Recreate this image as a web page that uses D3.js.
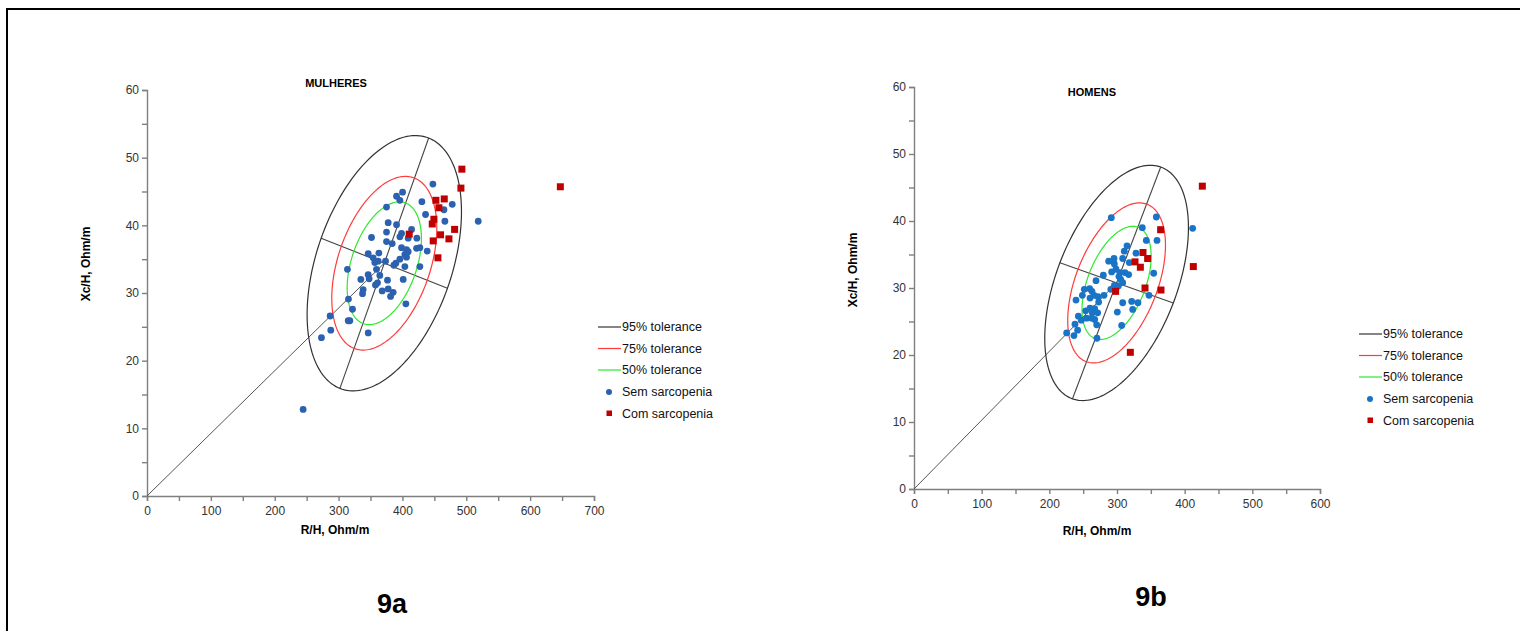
<!DOCTYPE html>
<html>
<head>
<meta charset="utf-8">
<script src="https://cdn.jsdelivr.net/npm/d3@7"></script>
<style>
  body { margin: 0; background: #fff; }
  text { font-family: "Liberation Sans", Arial, sans-serif; }
  .axis path, .axis line { stroke: #7f7f7f; stroke-width: 1.4; }
  .axis text { font-size: 12px; fill: #333; }
</style>
</head>
<body>
<script>
// Women (9a) - [R/H, Xc/H]
var womenSem = [
  [447.7,46.1],[400.2,44.9],[390.8,44.3],[396,43.7],[375.1,42.7],[430.5,43.5],[465,42.3],[478,43.1],
  [436.2,41.6],[466.5,40.6],[518.7,40.6],[377.7,40.4],[390.8,40.1],[375.1,39.0],[351.6,38.2],[398.6,38.8],
  [396,38.3],[414.3,39.4],[409,38.1],[422.6,38.1],[375.1,37.6],[384,37.3],[398.6,36.7],[406.4,36.4],
  [409,36.1],[422.1,36.6],[427.3,36.7],[438.8,36.2],[403.8,35.7],[406.4,35.3],[396,35.0],[346.4,35.8],
  [363.1,35.9],[354.2,35.2],[362,34.7],[356.8,34.5],[373.5,34.7],[389.7,34.4],[386.6,34.1],[403.8,33.9],
  [427.3,33.9],[313.9,33.5],[359.4,33.5],[364.6,32.6],[346.4,32.7],[347.9,32.1],[334.9,32.0],[401.2,32.0],
  [376.6,31.9],[361,31.5],[357.8,31.2],[338.5,30.5],[337.5,29.9],[368.3,30.3],[377.7,30.6],[385.5,30.1],
  [381.4,29.5],[315.5,29.1],[405.4,28.4],[321.8,27.6],[286.8,26.6],[315.1,25.9],[317.6,25.9],[287.8,24.5],
  [273.2,23.4],[346.4,24.1],[244.5,12.8]
];
var womenCom = [
  [493.1,48.3],[491.6,45.5],[647.3,45.7],[452.4,43.7],[465.5,43.9],[457.1,42.6],[449.3,40.9],[446.7,40.2],
  [481.7,39.4],[410.6,38.7],[459.7,38.6],[472.8,38.0],[448.2,37.7],[455.6,35.2]
];
// 95% ellipse: centre and two conjugate semi-diameters (data units)
var womenEllipse = { center: [371.6, 34.4], u: [69.5, 18.5], v: [98.9, -3.7] };

// Men (9b)
var menSem = [
  [291.6,40.5],[358.1,40.6],[411.8,38.9],[337.4,39.0],[343.3,37.1],[359.1,37.1],[314.8,36.3],[310.8,35.5],
  [328.1,35.2],[308.4,34.4],[295.6,34.4],[287.7,34.0],[318.2,33.8],[296.1,33.6],[298.5,32.8],[292.1,32.4],
  [304.4,32.3],[311.8,32.3],[317.2,32.0],[302.9,31.7],[305.4,31.3],[308.4,30.8],[279.8,31.9],[269,31.1],
  [354.2,32.2],[296.1,30.4],[302,30.3],[290.9,29.8],[251.7,29.8],[259.6,29.9],[263,29.5],[248.8,28.9],
  [239.4,28.2],[266,28.9],[260.1,28.5],[271.9,28.7],[280.8,28.9],[272.9,27.9],[347.3,28.9],[308.4,27.8],
  [321.7,28.0],[331,27.8],[300.5,26.4],[323.2,26.8],[253.7,26.6],[260.1,27.0],[267,26.9],[263.5,26.3],
  [271.4,26.3],[242.9,25.8],[255.2,25.5],[262.6,25.5],[267,25.3],[247.3,25.2],[237.9,24.6],[270,24.5],
  [306.9,24.4],[241.8,23.7],[225.6,23.3],[236.4,22.9],[270.4,22.5]
];
var menCom = [
  [426.1,45.2],[364.5,38.7],[338.4,35.3],[345.3,34.4],[326.6,33.9],[334.5,33.1],[412.8,33.2],[298,29.5],
  [341.4,30.0],[365,29.7],[319.7,20.4]
];
var menEllipse = { center: [299.4, 30.76], u: [65.2, 17.3], v: [83.8, -3.0] };

var tolerances = [0.95, 0.75, 0.50];
var toleranceColors = ["#333333", "#ff3b3b", "#2ee82e"];
var legendLabels = ["95% tolerance", "75% tolerance", "50% tolerance", "Sem sarcopenia", "Com sarcopenia"];
var yTickLabels = [0, 10, 20, 30, 40, 50, 60];

var svg = d3.select("body").append("svg")
    .attr("width", 1520)
    .attr("height", 631);

// frame
svg.append("path")
    .attr("d", "M7,631 V9 H1520")
    .attr("fill", "none")
    .attr("stroke", "#000")
    .attr("stroke-width", 2);

function drawPanel(cfg) {
    var x = d3.scaleLinear().domain([0, cfg.xMax]).range(cfg.xRange);
    var y = d3.scaleLinear().domain([0, 60]).range(cfg.yRange);
    var g = svg.append("g");

    var xAxis = g.append("g")
        .attr("class", "axis")
        .attr("transform", "translate(0," + cfg.yRange[0] + ")")
        .call(d3.axisBottom(x)
            .tickValues(d3.range(0, cfg.xMax + 1, 50))
            .tickSize(5)
            .tickFormat((d) => d % 100 === 0 ? d : ""));
    xAxis.selectAll("text").attr("dy", "0.95em");

    g.append("g")
        .attr("class", "axis")
        .attr("transform", "translate(" + cfg.xRange[0] + ",0)")
        .call(d3.axisLeft(y)
            .tickValues(d3.range(0, 61, 5))
            .tickSize(5)
            .tickFormat((d) => yTickLabels.indexOf(d) >= 0 ? d : ""));

    g.selectAll(".axis .domain").attr("stroke-width", 1.6);

    var e = cfg.ellipse;
    var c = e.center;

    // line from origin to centre
    g.append("line")
        .attr("x1", x(0)).attr("y1", y(0))
        .attr("x2", x(c[0])).attr("y2", y(c[1]))
        .attr("stroke", "#555").attr("stroke-width", 1);

    // axes of the 95% ellipse
    [e.u, e.v].forEach((a) => {
        g.append("line")
            .attr("x1", x(c[0] - a[0])).attr("y1", y(c[1] - a[1]))
            .attr("x2", x(c[0] + a[0])).attr("y2", y(c[1] + a[1]))
            .attr("stroke", "#444").attr("stroke-width", 1.1);
    });

    var k95 = Math.sqrt(-2 * Math.log(1 - 0.95));
    var angles = d3.range(0, 2 * Math.PI + 0.01, Math.PI / 90);
    tolerances.forEach((p, i) => {
        var s = Math.sqrt(-2 * Math.log(1 - p)) / k95;
        var line = d3.line()
            .x((t) => x(c[0] + s * (Math.cos(t) * e.u[0] + Math.sin(t) * e.v[0])))
            .y((t) => y(c[1] + s * (Math.cos(t) * e.u[1] + Math.sin(t) * e.v[1])))
            .curve(d3.curveLinearClosed);
        g.append("path")
            .datum(angles)
            .attr("d", line)
            .attr("fill", "none")
            .attr("stroke", toleranceColors[i])
            .attr("stroke-width", 1.2);
    });

    g.selectAll(".sem")
        .data(cfg.sem)
        .enter().append("circle")
        .attr("cx", (d) => x(d[0]))
        .attr("cy", (d) => y(d[1]))
        .attr("r", 3.4)
        .attr("fill", cfg.blue);

    g.selectAll(".com")
        .data(cfg.com)
        .enter().append("rect")
        .attr("x", (d) => x(d[0]) - 3.5)
        .attr("y", (d) => y(d[1]) - 3.5)
        .attr("width", 7)
        .attr("height", 7)
        .attr("fill", "#c00000");

    // titles
    g.append("text")
        .attr("x", cfg.titlePos[0]).attr("y", cfg.titlePos[1])
        .attr("text-anchor", "middle")
        .attr("font-size", "11px").attr("font-weight", "bold")
        .text(cfg.title);

    g.append("text")
        .attr("x", cfg.xLabelPos[0]).attr("y", cfg.xLabelPos[1])
        .attr("text-anchor", "middle")
        .attr("font-size", "12px").attr("font-weight", "bold")
        .text("R/H, Ohm/m");

    g.append("text")
        .attr("transform", "translate(" + cfg.yLabelPos[0] + "," + cfg.yLabelPos[1] + ") rotate(-90)")
        .attr("text-anchor", "middle")
        .attr("font-size", "12px").attr("font-weight", "bold")
        .text("Xc/H, Ohm/m");

    g.append("text")
        .attr("x", cfg.figPos[0]).attr("y", cfg.figPos[1])
        .attr("text-anchor", "middle")
        .attr("font-size", "27px").attr("font-weight", "bold")
        .text(cfg.fig);

    // legend
    var lg = g.append("g").attr("transform", "translate(" + cfg.legendPos[0] + "," + cfg.legendPos[1] + ")");
    legendLabels.forEach((label, i) => {
        var ly = i < 3 ? i * 21.5 : 65 + (i - 3) * 21.5;
        if (i < 3) {
            lg.append("line")
                .attr("x1", 0).attr("x2", 23).attr("y1", ly).attr("y2", ly)
                .attr("stroke", toleranceColors[i]).attr("stroke-width", 1.2);
        } else if (i === 3) {
            lg.append("circle").attr("cx", 11).attr("cy", ly).attr("r", 3).attr("fill", cfg.blue);
        } else {
            lg.append("rect").attr("x", 8.5).attr("y", ly - 3).attr("width", 5.5).attr("height", 5.5).attr("fill", "#c00000");
        }
        lg.append("text")
            .attr("x", i < 3 ? 24 : 24)
            .attr("y", ly)
            .attr("dy", "0.35em")
            .attr("font-size", "12.5px")
            .attr("fill", "#111")
            .text(label);
    });
}

drawPanel({
    xMax: 700, xRange: [147, 594], yRange: [496, 90],
    sem: womenSem, com: womenCom, ellipse: womenEllipse,
    blue: "#2c61b0",
    title: "MULHERES", titlePos: [336, 87],
    xLabelPos: [335, 534], yLabelPos: [90, 264],
    fig: "9a", figPos: [392, 613],
    legendPos: [598, 327]
});

drawPanel({
    xMax: 600, xRange: [914, 1320], yRange: [489, 87],
    sem: menSem, com: menCom, ellipse: menEllipse,
    blue: "#1a74c6",
    title: "HOMENS", titlePos: [1092, 96],
    xLabelPos: [1097, 535], yLabelPos: [857, 270],
    fig: "9b", figPos: [1151, 606],
    legendPos: [1359, 334]
});
</script>
</body>
</html>
